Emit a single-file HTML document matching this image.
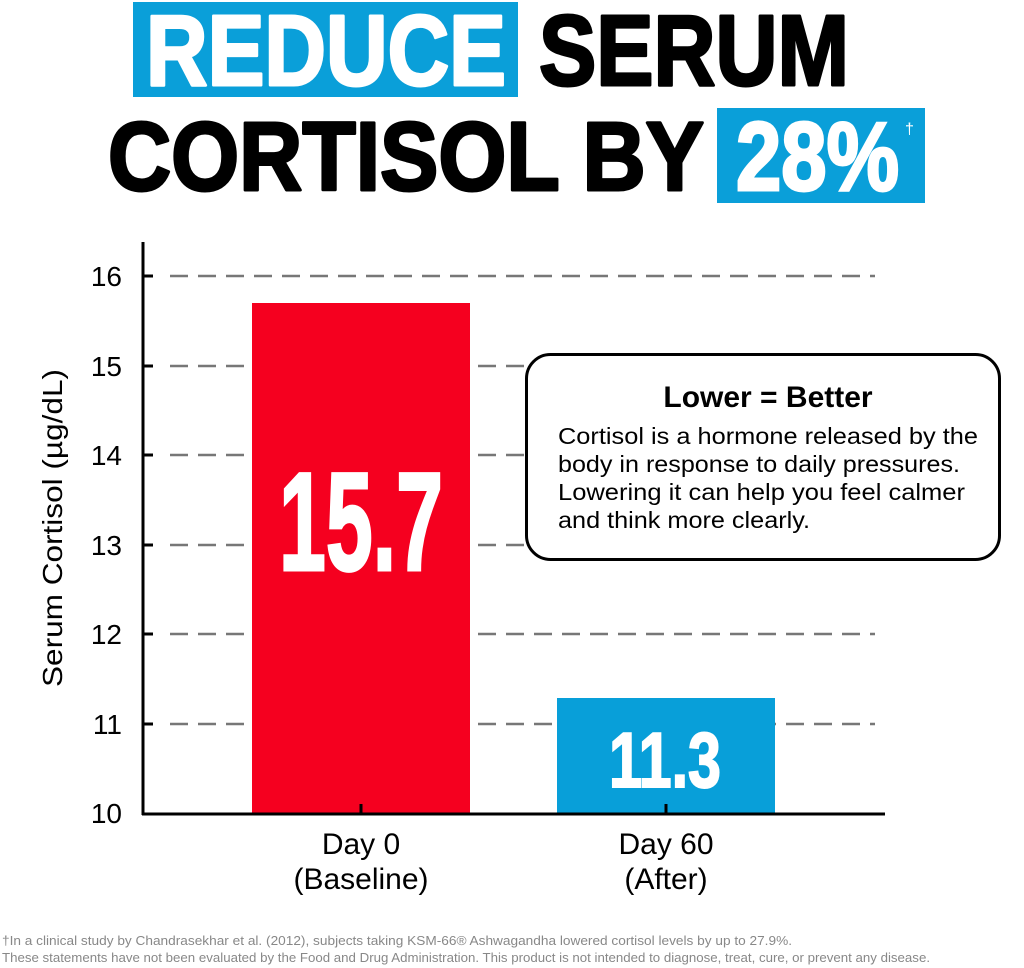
<!DOCTYPE html>
<html><head><meta charset="utf-8"><style>
html,body{margin:0;padding:0;background:#fff;}
svg{display:block;}
text{font-family:"Liberation Sans",sans-serif;}
</style></head><body>
<svg width="1024" height="968" viewBox="0 0 1024 968" xmlns="http://www.w3.org/2000/svg">
<!-- title -->
<rect x="133" y="2" width="385" height="95" fill="#0a9fd9"/>
<g stroke-width="3" stroke-linejoin="round">
<text x="146" y="85" font-size="100" font-weight="bold" fill="#fff" stroke="#fff" textLength="360" lengthAdjust="spacingAndGlyphs">REDUCE</text>
<text x="539" y="85" font-size="100" font-weight="bold" fill="#000" stroke="#000" textLength="310" lengthAdjust="spacingAndGlyphs">SERUM</text>
<text x="108" y="190" font-size="97" font-weight="bold" fill="#000" stroke="#000" textLength="596" lengthAdjust="spacingAndGlyphs">CORTISOL BY</text>
</g>
<rect x="717" y="108" width="208" height="95" fill="#0a9fd9"/>
<text x="736" y="190" font-size="97" font-weight="bold" fill="#fff" stroke="#fff" stroke-width="3" textLength="163" lengthAdjust="spacingAndGlyphs">28%</text>
<text x="905" y="134" font-size="16" fill="#fff">†</text>
<!-- grid -->
<g stroke="#777" stroke-width="2.5" stroke-dasharray="18,10">
<line x1="170" y1="276" x2="875" y2="276"/>
<line x1="170" y1="366" x2="875" y2="366"/>
<line x1="170" y1="455" x2="875" y2="455"/>
<line x1="170" y1="545" x2="875" y2="545"/>
<line x1="170" y1="634" x2="875" y2="634"/>
<line x1="170" y1="724" x2="875" y2="724"/>
</g>
<g stroke="#000" stroke-width="3">
<line x1="143" y1="276" x2="153" y2="276"/><line x1="143" y1="366" x2="153" y2="366"/>
<line x1="143" y1="455" x2="153" y2="455"/><line x1="143" y1="545" x2="153" y2="545"/>
<line x1="143" y1="634" x2="153" y2="634"/><line x1="143" y1="724" x2="153" y2="724"/>
</g>
<!-- bars -->
<rect x="252" y="303" width="218" height="510" fill="#f5001f"/>
<rect x="557" y="698" width="218" height="115" fill="#089fd9"/>
<text x="279" y="570" font-size="140" font-weight="bold" fill="#fff" stroke="#fff" stroke-width="3" textLength="164" lengthAdjust="spacingAndGlyphs">15.7</text>
<text x="609" y="787" font-size="78" font-weight="bold" fill="#fff" stroke="#fff" stroke-width="2" textLength="112" lengthAdjust="spacingAndGlyphs">11.3</text>
<!-- axes -->
<line x1="143" y1="242" x2="143" y2="815" stroke="#000" stroke-width="3"/>
<line x1="142" y1="814" x2="885" y2="814" stroke="#000" stroke-width="3"/>
<line x1="361" y1="804" x2="361" y2="814" stroke="#000" stroke-width="3"/>
<line x1="666" y1="804" x2="666" y2="814" stroke="#000" stroke-width="3"/>
<g font-size="28" fill="#000" text-anchor="end">
<text x="122" y="286">16</text><text x="122" y="376">15</text><text x="122" y="465">14</text>
<text x="122" y="555">13</text><text x="122" y="644">12</text><text x="122" y="734">11</text>
<text x="122" y="823">10</text>
</g>
<text transform="translate(62,528) rotate(-90)" font-size="28" text-anchor="middle" fill="#000" textLength="318" lengthAdjust="spacingAndGlyphs">Serum Cortisol (µg/dL)</text>
<g font-size="30" text-anchor="middle" fill="#000">
<text x="361" y="854">Day 0</text><text x="361" y="889">(Baseline)</text>
<text x="666" y="854">Day 60</text><text x="666" y="889">(After)</text>
</g>
<!-- box -->
<rect x="526.5" y="354.5" width="473" height="205" rx="24" fill="#fff" stroke="#000" stroke-width="3"/>
<text x="768" y="407" font-size="30" font-weight="bold" text-anchor="middle" fill="#000">Lower = Better</text>
<g font-size="23.5" fill="#000">
<text x="558" y="444" textLength="420" lengthAdjust="spacingAndGlyphs">Cortisol is a hormone released by the</text>
<text x="558" y="472" textLength="402" lengthAdjust="spacingAndGlyphs">body in response to daily pressures.</text>
<text x="558" y="500" textLength="407" lengthAdjust="spacingAndGlyphs">Lowering it can help you feel calmer</text>
<text x="558" y="528" textLength="252" lengthAdjust="spacingAndGlyphs">and think more clearly.</text>
</g>
<!-- footnote -->
<g font-size="12.5" fill="#888">
<text x="2" y="945" textLength="790" lengthAdjust="spacingAndGlyphs">†In a clinical study by Chandrasekhar et al. (2012), subjects taking KSM-66® Ashwagandha lowered cortisol levels by up to 27.9%.</text>
<text x="2" y="962" textLength="928" lengthAdjust="spacingAndGlyphs">These statements have not been evaluated by the Food and Drug Administration. This product is not intended to diagnose, treat, cure, or prevent any disease.</text>
</g>
</svg>
</body></html>
